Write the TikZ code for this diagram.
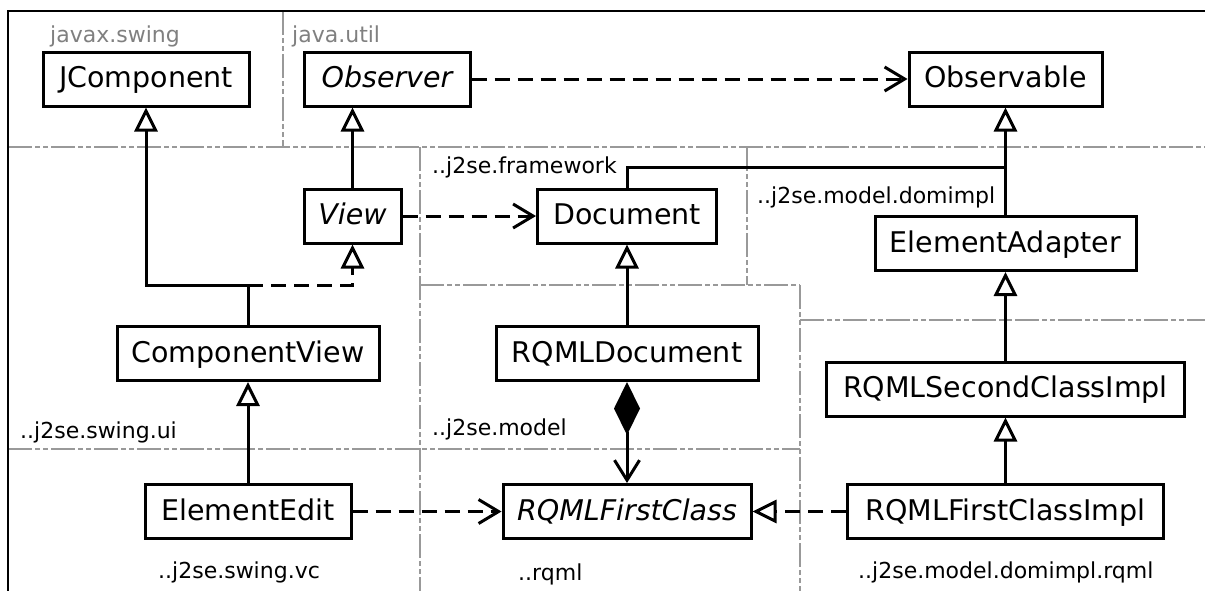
\documentclass[tikz,border=0pt]{standalone}
\usepackage{fontspec}
\setmainfont{DejaVu Sans}
\usetikzlibrary{arrows.meta}
\definecolor{pkggray}{HTML}{999999}
\definecolor{labgray}{HTML}{808080}
\tikzset{
  cls/.style={draw, line width=3pt, minimum height=54pt, inner sep=0pt,
    text height=21pt, text depth=4pt, fill=white,
    font=\fontsize{28.5}{30}\selectfont},
  abs/.style={font=\fontsize{28.5}{30}\selectfont\itshape},
  pkgline/.style={pkggray, line width=2.2pt,
    dash pattern=on 24pt off 3pt on 5pt off 3pt on 5pt off 3pt},
  pkglabel/.style={anchor=base west, inner sep=0pt, font=\fontsize{22}{24}\selectfont},
  conn/.style={line width=3pt},
  gen/.style={conn, -{Triangle[open, length=24pt, width=23pt]}},
  real/.style={conn, dash pattern=on 15pt off 8pt, -{Triangle[open, length=24pt, width=23pt]}},
  dep/.style={conn, dash pattern=on 15pt off 8pt, -{Straight Barb[length=20pt, width=24pt]}},
  comp/.style={conn, {Diamond[length=53pt, width=26pt]}-{Straight Barb[length=20pt, width=25pt]}},
}
\begin{document}
\begin{tikzpicture}[x=1pt, y=-1pt]
\useasboundingbox (0,0) rectangle (1205,590);
\fill[white] (0,0) rectangle (1205,590);

% package boundaries
\draw[pkgline] (8,147) -- (1210,147);
\draw[pkgline] (283,11) -- (283,147);
\draw[pkgline] (420,147) -- (420,595);
\draw[pkgline] (747,147) -- (747,285);
\draw[pkgline] (420,285) -- (800,285);
\draw[pkgline] (800,285) -- (800,595);
\draw[pkgline] (800,320) -- (1210,320);
\draw[pkgline] (8,449) -- (800,449);

% outer frame
\draw[line width=2.7pt] (1210,11) -- (8,11) -- (8,595);

% package labels
\node[pkglabel, text=labgray] (pswing) at (50,42) {javax.swing};
\node[pkglabel, text=labgray] (putil) at (292,42) {java.util};
\node[pkglabel] (pfw) at (432,173) {..j2se.framework};
\node[pkglabel] (pdom) at (757,203) {..j2se.model.domimpl};
\node[pkglabel] (pui) at (20,438) {..j2se.swing.ui};
\node[pkglabel] (pmodel) at (432,435) {..j2se.model};
\node[pkglabel] (pvc) at (158,578) {..j2se.swing.vc};
\node[pkglabel] (prqml) at (518,580) {..rqml};
\node[pkglabel] (pdomrqml) at (858,578) {..j2se.model.domimpl.rqml};

% classes
\node[cls, minimum width=206pt] (jc) at (146,79) {JComponent};
\node[cls, abs, minimum width=166pt] (obs) at (387,79) {Observer};
\node[cls, minimum width=193pt] (obl) at (1005.5,79) {Observable};
\node[cls, abs, minimum width=97pt] (view) at (352.5,216) {View};
\node[cls, minimum width=179pt] (doc) at (627,216) {Document};
\node[cls, minimum width=261pt] (ea) at (1005.5,243.5) {ElementAdapter};
\node[cls, minimum width=262pt] (cv) at (248,353.5) {ComponentView};
\node[cls, minimum width=262pt] (rdoc) at (627,353.5) {RQMLDocument};
\node[cls, minimum width=358pt] (rsci) at (1005.5,389) {RQMLSecondClassImpl};
\node[cls, minimum width=206pt] (ee) at (248,511.5) {ElementEdit};
\node[cls, abs, minimum width=248pt] (rfc) at (627,511.5) {RQMLFirstClass};
\node[cls, minimum width=316pt] (rfci) at (1005.5,511.5) {RQMLFirstClassImpl};

% connectors
\draw[gen] (view.north) -- (view.north |- obs.south);
\draw[dep] (obs.east) -- (obl.west);
\draw[dep] (view.east) -- (doc.west);
\coordinate (ej) at (1005.5,167);
\draw[conn] (doc.north) |- (ej);
\draw[gen] (ea.north) -- (obl.south);
\draw[gen] (rsci.north) -- (ea.south);
\draw[gen] (rfci.north) -- (rsci.south);
\draw[gen] (rdoc.north) -- (doc.south);
\draw[gen] (ee.north) -- (cv.south);
\coordinate (cj) at (248,285);
\draw[conn] (cv.north) -- (cj);
\draw[gen] (cj) -| (jc.south);
\draw[real] (cj) -| (view.south);
\draw[comp] (rdoc.south) -- (rfc.north);
\draw[dep] (ee.east) -- (rfc.west);
\draw[real] (rfci.west) -- (rfc.east);
\end{tikzpicture}
\end{document}
